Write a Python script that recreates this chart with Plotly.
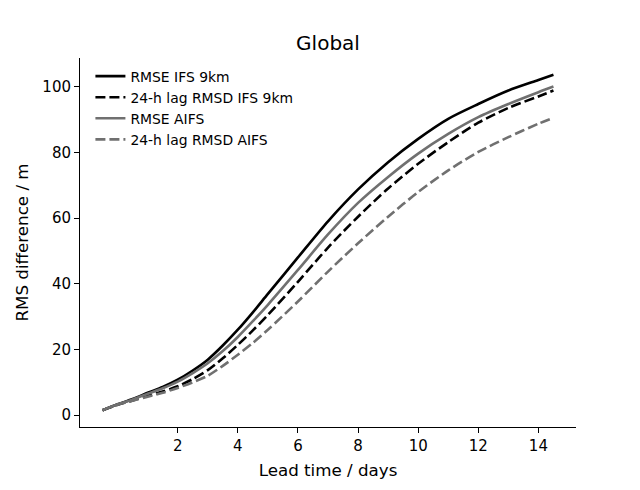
import plotly.graph_objects as go

# lead time in days
lead_days = [-0.5, 0, 0.5, 1, 1.5, 2, 2.5, 3, 3.5, 4, 4.5, 5, 6, 7, 8, 9, 10, 11, 12, 13, 14, 14.5]

# RMS difference (m)
rmse_ifs = [1.5, 3.3, 4.9, 6.8, 8.6, 10.8, 13.6, 16.9, 21.2, 26.0, 31.3, 36.9, 48.0, 59.0, 68.7, 77.0, 84.1, 90.2, 94.7, 98.8, 102.0, 103.6]
lag_ifs = [1.5, 3.2, 4.5, 5.9, 7.2, 8.8, 11.0, 13.7, 17.3, 21.4, 25.8, 30.5, 40.6, 51.0, 60.4, 69.0, 76.5, 83.1, 89.0, 93.5, 97.0, 98.8]
rmse_aifs = [1.5, 3.3, 4.8, 6.5, 8.2, 10.2, 12.8, 15.8, 19.5, 23.8, 28.6, 33.6, 44.2, 55.0, 64.6, 72.5, 79.6, 85.6, 90.7, 94.7, 98.3, 100.0]
lag_aifs = [1.5, 3.2, 4.4, 5.6, 6.8, 8.3, 10.0, 12.0, 15.0, 18.4, 22.0, 26.0, 34.6, 43.7, 52.3, 60.4, 67.9, 74.5, 80.1, 84.6, 88.7, 90.5]

series_names = ["RMSE IFS 9km", "24-h lag RMSD IFS 9km", "RMSE AIFS", "24-h lag RMSD AIFS"]

fig = go.Figure()

styles = [
    (rmse_ifs, "black", "solid"),
    (lag_ifs, "black", "10px,4px"),
    (rmse_aifs, "#707070", "solid"),
    (lag_aifs, "#707070", "10px,4px"),
]
for name, (vals, col, dash) in zip(series_names, styles):
    fig.add_trace(go.Scatter(
        x=lead_days, y=vals, name=name, mode="lines",
        line=dict(color=col, width=2.6, dash=dash, shape="spline", smoothing=0.8),
    ))

fig.update_xaxes(
    range=[-1.25, 15.25], tickvals=[2, 4, 6, 8, 10, 12, 14], automargin=False,
    showline=True, linecolor="black", linewidth=1, mirror=False,
    ticks="outside", ticklen=5, tickcolor="black", showgrid=False, zeroline=False,
    tickfont=dict(size=15, color="black"),
    title=dict(text="Lead time / days", font=dict(size=16.7, color="black"), standoff=10),
)
fig.update_yaxes(
    range=[-3.6, 108.7], tickvals=[0, 20, 40, 60, 80, 100], automargin=False,
    showline=True, linecolor="black", linewidth=1, mirror=False,
    ticks="outside", ticklen=5, tickcolor="black", showgrid=False, zeroline=False,
    tickfont=dict(size=15, color="black"),
    title=dict(text="RMS difference / m", font=dict(size=16.7, color="black"), standoff=9),
)

# page body adds an 8px offset, so margins are shifted to put the axes where the reference has them
fig.update_layout(
    width=640, height=490,
    margin=dict(l=72, r=72, t=50, b=71),
    paper_bgcolor="white", plot_bgcolor="white",
    font=dict(family="DejaVu Sans", color="black"),
    title=dict(text="Global", x=0.5, xref="paper", y=1 - 35 / 490, yref="container",
               yanchor="middle", font=dict(size=20, color="black")),
    legend=dict(x=0.021, y=0.993, xanchor="left", yanchor="top", bgcolor="rgba(0,0,0,0)",
                font=dict(size=13.9, color="black"), tracegroupgap=0, itemwidth=30),
    showlegend=True,
)

fig.write_html("out.html")
